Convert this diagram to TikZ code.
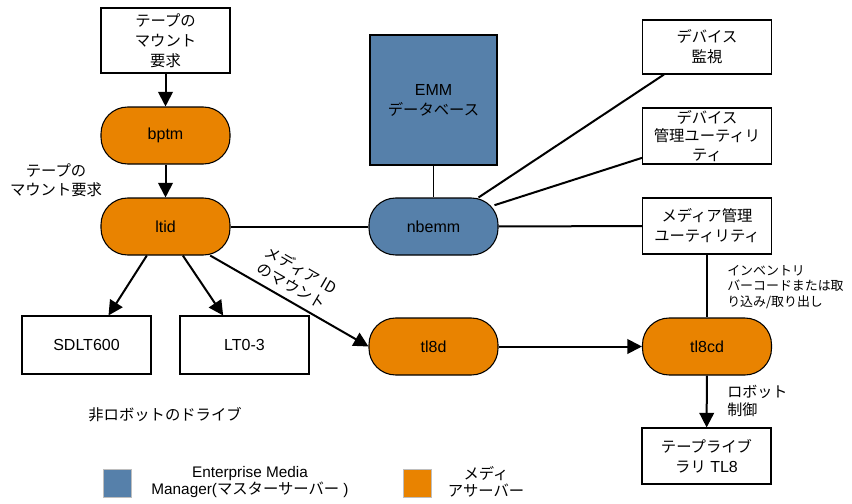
\documentclass[tikz,border=0pt]{standalone}
\usepackage{fontspec}
\setmainfont{Liberation Sans}
\newfontfamily\jp{Noto Sans CJK JP}
\usetikzlibrary{arrows.meta}

\definecolor{mediaorange}{RGB}{233,131,0}
\definecolor{emmblue}{RGB}{86,128,170}
\definecolor{keygray}{RGB}{190,190,190}

\begin{document}
\begin{tikzpicture}[x=0.75pt,y=-0.75pt,
    box/.style={draw, fill=white, line width=0.8pt, inner sep=0pt, align=center,
        minimum width=96.75pt, minimum height=42pt, font=\fontsize{12}{15}\selectfont},
    jtext/.style={font=\fontsize{11.5}{15}\selectfont\jp},
    proc/.style={box, fill=mediaorange, rounded corners=20pt, minimum height=42.75pt},
    emmproc/.style={proc, fill=emmblue},
    lbl/.style={inner sep=0pt, align=center, font=\fontsize{11.5}{14}\selectfont\jp},
    key/.style={draw=keygray, line width=0.8pt, minimum size=21pt, inner sep=0pt},
    link/.style={line width=1.5pt},
    arr/.style={link, -{Triangle[width=11pt,length=11pt]}}]
    \useasboundingbox (0,0) rectangle (852,503);

    % left column
    \node[box, jtext, minimum height=48.75pt] (mountreq) at (165.5,40.5) {テープの\\マウント\\要求};
    \node[proc] (bptm) at (165.5,135.5) {bptm};
    \node[proc] (ltid) at (165.5,226.5) {ltid};
    \node[box, minimum height=43.5pt] (sdlt) at (86.5,345) {SDLT600};
    \node[box, minimum height=43.5pt] (lt03) at (244.5,345) {LT0-3};
    \node[lbl] (mountlbl) at (56,180) {テープの\\マウント要求};
    \node[lbl] (drivelbl) at (165,415) {非ロボットのドライブ};

    % EMM
    \node[box, fill=emmblue, minimum width=95.25pt, minimum height=97.5pt] (emm) at (433.5,100)
        {EMM\\{\jp\fontsize{11.5}{15}\selectfont データベース}};
    \node[emmproc] (nbemm) at (433.5,226.5) {nbemm};
    \node[proc] (tl8d) at (433.5,346.5) {tl8d};

    % right column
    \node[box, jtext, minimum height=40.5pt] (monitor) at (707,47) {デバイス\\監視};
    \node[box, font=\fontsize{11.5}{14}\selectfont\jp] (devmgmt) at (707,136) {デバイス\\管理ユーティリ\\ティ};
    \node[box, jtext] (mediamgmt) at (707,226) {メディア管理\\ユーティリティ};
    \node[proc] (tl8cd) at (707,346.5) {tl8cd};
    \node[box, minimum height=42pt] (tl8) at (706.5,456) {{\jp\fontsize{11.5}{15}\selectfont テープライブ}\\{\jp\fontsize{11.5}{15}\selectfont ラリ} TL8};
    \node[lbl, anchor=west, align=left, font=\fontsize{9.7}{11.8}\selectfont\jp] (invlbl) at (727,287)
        {インベントリ\\バーコードまたは取\\り込み/取り出し};
    \node[lbl, anchor=west, align=left, font=\fontsize{11.3}{13.5}\selectfont\jp] (robotlbl) at (727,401) {ロボット\\制御};

    % legend
    \node[key, fill=emmblue] (keyemm) at (117.5,483.5) {};
    \node[inner sep=0pt, align=center, font=\fontsize{11.5}{12.5}\selectfont] (keyemmtxt) at (250,482)
        {Enterprise Media\\Manager({\jp マスターサーバー} )};
    \node[key, fill=mediaorange] (keymedia) at (417.5,483.5) {};
    \node[lbl, font=\fontsize{11.5}{12.5}\selectfont\jp] (keymediatxt) at (486,482) {メディ\\アサーバー};

    % connectors
    \draw[arr] (mountreq) -- (bptm);
    \draw[arr] (bptm) -- (ltid);
    \draw[link] (ltid) -- (nbemm);
    \draw[arr] ([xshift=-14pt]ltid.south) -- ([xshift=16.5pt]sdlt.north);
    \draw[arr] ([xshift=13pt]ltid.south) -- ([xshift=-16pt]lt03.north);
    \draw[arr] (ltid.-33) -- node[pos=0.47, sloped, above=5pt, lbl] {メディア ID\\のマウント} (tl8d.west);
    \draw[line width=1pt] (emm) -- (nbemm);
    \draw[link] ([xshift=-15pt]nbemm.north east) -- ([xshift=16.5pt]monitor.south west);
    \draw[link] ([xshift=-3pt,yshift=16pt]nbemm.east) -- ([yshift=5pt]devmgmt.south west);
    \draw[link] (nbemm) -- (mediamgmt);
    \draw[link] (mediamgmt) -- (tl8cd);
    \draw[arr] (tl8d) -- (tl8cd);
    \draw[arr] (tl8cd) -- (tl8);
\end{tikzpicture}
\end{document}
